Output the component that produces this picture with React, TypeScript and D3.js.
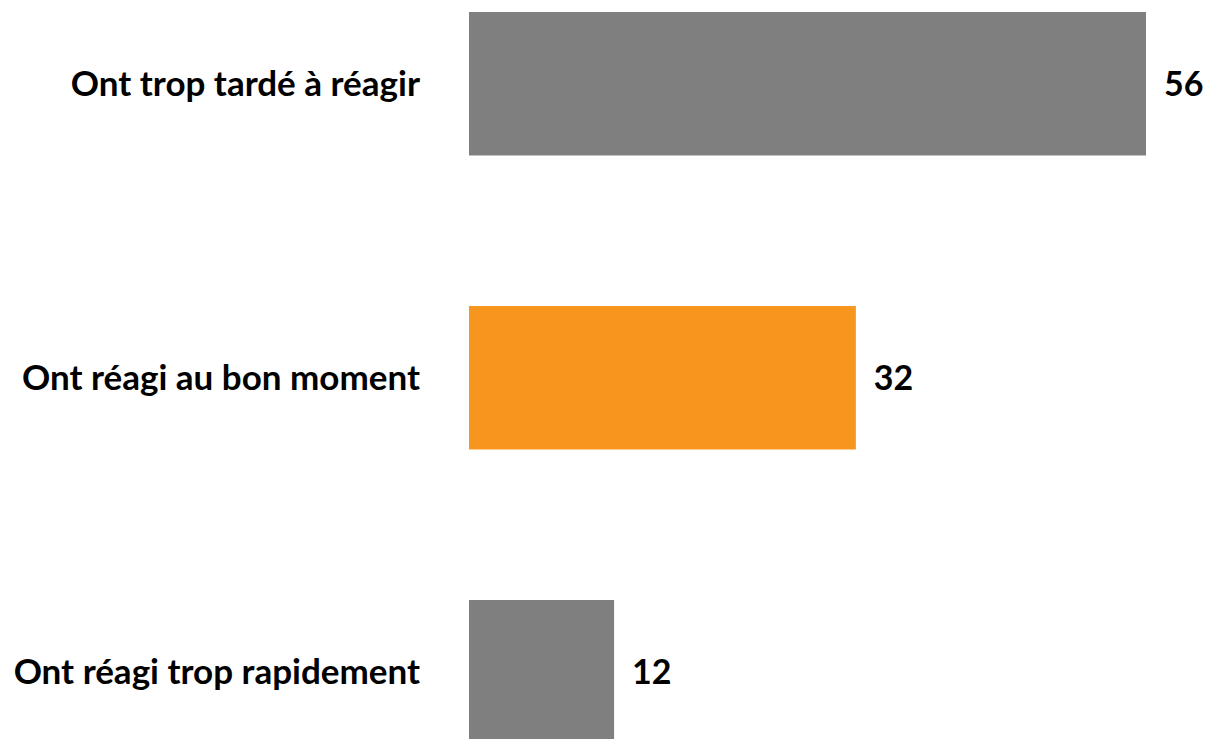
import React from 'react';
import * as d3 from 'd3';

// Data
const categories: string[] = [
  'Ont trop tardé à réagir',
  'Ont réagi au bon moment',
  'Ont réagi trop rapidement',
];
const values: number[] = [56, 32, 12];
const barColors: string[] = ['#7f7f7f', '#f7961f', '#7f7f7f'];

const width = 1205;
const height = 739;

const App = () => {
  // Set up scales
  const x = d3.scaleLinear().domain([0, 56]).range([469, 1146]);
  const y = d3
    .scaleBand<string>()
    .domain(categories)
    .range([12, 743.5])
    .paddingInner(0.512)
    .paddingOuter(0);

  const font = "Lato, 'Noto Sans', sans-serif";

  return (
    <svg
      width={width}
      height={height}
      style={{ position: 'absolute', left: 0, top: 0, background: '#fff' }}
    >
      {categories.map((c, i) => {
        const yTop = y(c) as number;
        const cy = yTop + y.bandwidth() / 2;
        return (
          <g key={c}>
            <rect
              x={x(0)}
              y={yTop}
              width={x(values[i]) - x(0)}
              height={y.bandwidth()}
              fill={barColors[i]}
            />
            {/* category label */}
            <text
              x={420}
              y={cy}
              dy="0.36em"
              textAnchor="end"
              fontFamily={font}
              fontWeight="bold"
              fontSize={35}
              fill="#000"
            >
              {c}
            </text>
            {/* value label */}
            <text
              x={x(values[i]) + 18}
              y={cy}
              dy="0.36em"
              textAnchor="start"
              fontFamily={font}
              fontWeight="bold"
              fontSize={34}
              fill="#000"
            >
              {values[i]}
            </text>
          </g>
        );
      })}
    </svg>
  );
};

export default App;
